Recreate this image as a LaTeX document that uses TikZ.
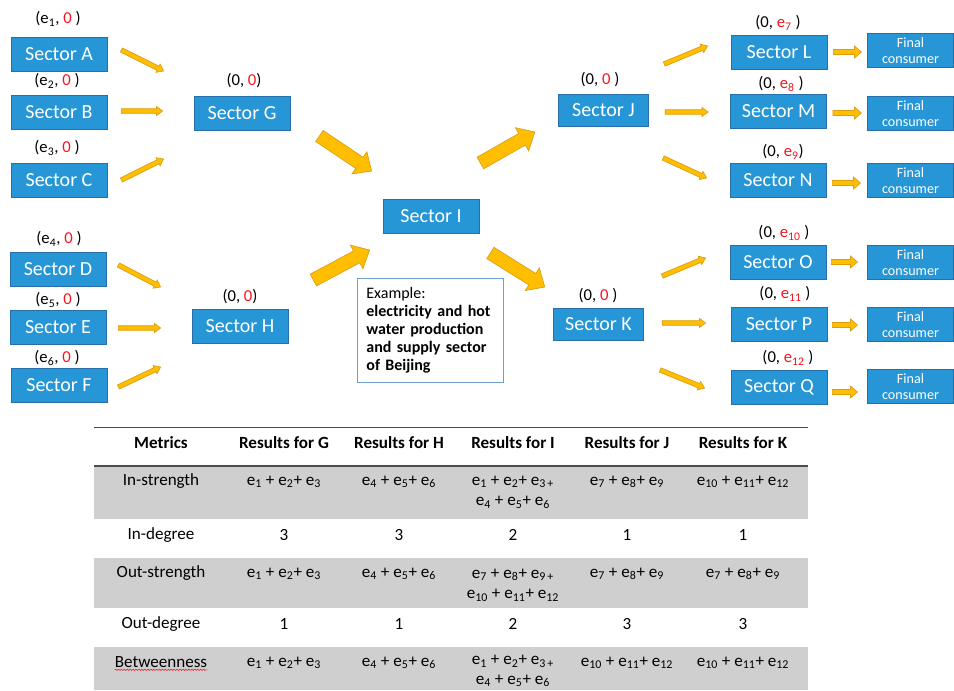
\documentclass[tikz,border=0pt]{standalone}
\usepackage{fontspec}
\setmainfont{Carlito}
\usetikzlibrary{calc,decorations.pathmorphing}

\definecolor{sectorblue}{RGB}{38,150,214}
\definecolor{sectoredge}{RGB}{40,110,168}
\definecolor{arrowgold}{RGB}{255,190,0}
\definecolor{arrowedge}{RGB}{218,158,20}
\definecolor{valred}{RGB}{245,20,30}
\definecolor{rowgray}{RGB}{207,207,207}
\definecolor{boxline}{RGB}{110,160,205}

\tikzset{
  sector/.style={draw=sectoredge, line width=0.6pt, fill=sectorblue, text=white, inner sep=0pt,
    minimum width=72pt, minimum height=25.5pt, font=\fontsize{15}{18}\selectfont},
  hub/.style={sector, minimum width=68pt, minimum height=24pt},
  consumer/.style={sector, minimum width=64pt, minimum height=26pt, align=center,
    font=\fontsize{10.6}{12.5}\selectfont},
  flow/.style={inner sep=0pt, font=\fontsize{12.5}{15}\selectfont},
  arrowfill/.style={fill=arrowgold, draw=arrowedge, line width=0.5pt, line join=miter},
  cell/.style={inner sep=0pt, align=center, font=\fontsize{12.8}{15.5}\selectfont},
  headcell/.style={cell, font=\fontsize{12.8}{15.5}\selectfont\bfseries},
  tablerule/.style={draw=black!70, line width=1.4pt},
}

\newcommand\evar[1]{e\textsubscript{#1}}
\newcommand\redval[1]{{\color{valred}#1}}
% half shaft, half head, head length, from, to
\newcommand\blockarrow[5]{%
  \coordinate (tail) at (#4);
  \coordinate (tip) at (#5);
  \coordinate (neck) at ($(tip)!#3!(tail)$);
  \filldraw[arrowfill] ($(tail)!#1!90:(tip)$) -- ($(neck)!#1!-90:(tail)$) -- ($(neck)!#2!-90:(tail)$)
    -- (tip) -- ($(neck)!#2!90:(tail)$) -- ($(neck)!#1!90:(tail)$) -- ($(tail)!#1!-90:(tip)$) -- cycle;}
\newcommand\thinarrow[2]{\blockarrow{1.7pt}{3.4pt}{4.6pt}{#1}{#2}}
\newcommand\midarrow[2]{\blockarrow{1.9pt}{4.5pt}{5.2pt}{#1}{#2}}
\newcommand\bigarrow[2]{\blockarrow{5pt}{10pt}{11pt}{#1}{#2}}

\begin{document}
\begin{tikzpicture}[x=0.75pt,y=-0.75pt]
  %%%%% START %%%%%
  \useasboundingbox (0,0) rectangle (954,690);

  % source sectors
  \node[sector] (A) at (59,54) {Sector A};
  \node[sector] (B) at (59,112) {Sector B};
  \node[sector] (C) at (59,180) {Sector C};
  \node[sector] (D) at (58,269.5) {Sector D};
  \node[sector] (E) at (58,327.5) {Sector E};
  \node[sector] (F) at (59,385.5) {Sector F};

  \node[flow] (lA) at (58,19) {(\evar{1}, \redval{0} )};
  \node[flow] (lB) at (57,81) {(\evar{2}, \redval{0} )};
  \node[flow] (lC) at (57,148) {(\evar{3}, \redval{0} )};
  \node[flow] (lD) at (59,239) {(\evar{4}, \redval{0} )};
  \node[flow] (lE) at (58,300) {(\evar{5}, \redval{0} )};
  \node[flow] (lF) at (57,358) {(\evar{6}, \redval{0} )};

  % middle sectors
  \node[sector] (G) at (242,113) {Sector G};
  \node[sector] (H) at (240,326) {Sector H};
  \node[sector] (I) at (431,216) {Sector I};
  \node[hub] (J) at (603.5,110) {Sector J};
  \node[hub] (K) at (598.5,324) {Sector K};

  \node[flow] (lG) at (244,81) {(0, \redval{0})};
  \node[flow] (lH) at (240,297) {(0, \redval{0})};
  \node[flow] (lJ) at (600,80) {(0, \redval{0} )};
  \node[flow] (lK) at (598,296) {(0, \redval{0} )};

  % output sectors
  \node[sector] (L) at (779,52.5) {Sector L};
  \node[sector] (M) at (778.5,111) {Sector M};
  \node[sector] (N) at (778,180) {Sector N};
  \node[sector] (O) at (778,262.5) {Sector O};
  \node[sector] (P) at (779,324) {Sector P};
  \node[sector] (Q) at (779,387) {Sector Q};

  \node[flow] (lL) at (778,23) {(0, \redval{\evar{7}} )};
  \node[flow] (lM) at (781,84) {(0, \redval{\evar{8}} )};
  \node[flow] (lN) at (783,152) {(0, \redval{\evar{9}})};
  \node[flow] (lO) at (784,233) {(0, \redval{\evar{10}} )};
  \node[flow] (lP) at (785,294) {(0, \redval{\evar{11}} )};
  \node[flow] (lQ) at (788,358) {(0, \redval{\evar{12}} )};

  \node[consumer] (fL) at (910.5,50.5) {Final\\consumer};
  \node[consumer] (fM) at (910.5,113.5) {Final\\consumer};
  \node[consumer] (fN) at (910.5,180.5) {Final\\consumer};
  \node[consumer] (fO) at (910.5,262.5) {Final\\consumer};
  \node[consumer] (fP) at (910.5,324.5) {Final\\consumer};
  \node[consumer] (fQ) at (910.5,386.5) {Final\\consumer};

  \node[draw=boxline, line width=0.6pt, anchor=north west, text width=96pt, minimum height=78pt,
    inner xsep=6.75pt, align=left, font=\fontsize{12}{13.5}\selectfont] (ex) at (357,278)
    {Example:\\\textbf{electricity and hot water production and supply sector of Beijing}};

  % arrows
  \thinarrow{$(A.east)+(14,-4)$}{$(G.west)+(-30,-42)$}
  \thinarrow{$(B.east)+(14,-1)$}{$(G.west)+(-31,-2)$}
  \thinarrow{$(C.east)+(14,0)$}{$(G.west)+(-30,46)$}
  \thinarrow{$(D.east)+(12,-4.5)$}{$(H.west)+(-31,-39)$}
  \thinarrow{$(E.east)+(12,0.5)$}{$(H.west)+(-31,2)$}
  \thinarrow{$(F.east)+(11,1.5)$}{$(H.west)+(-31,41)$}

  \bigarrow{$(G.east)+(29,23)$}{$(I.west)+(-11,-45)$}
  \bigarrow{$(H.east)+(25,-46)$}{$(I.west)+(-13,34)$}
  \bigarrow{$(I.east)+(1,-53)$}{$(J.west)+(-23,22)$}
  \bigarrow{$(I.east)+(11,37)$}{$(K.west)+(-8,-37)$}

  \thinarrow{$(J.east)+(15,-46)$}{$(L.west)+(-23,-6.5)$}
  \thinarrow{$(J.east)+(16,2)$}{$(M.west)+(-22,1)$}
  \thinarrow{$(J.east)+(14,48)$}{$(N.west)+(-23,-2)$}
  \thinarrow{$(K.east)+(18,-48)$}{$(O.west)+(-24,-4.5)$}
  \thinarrow{$(K.east)+(18,-1)$}{$(P.west)+(-25,-1)$}
  \thinarrow{$(K.east)+(16,46)$}{$(Q.west)+(-26,1)$}

  \midarrow{$(L.east)+(6,-0.5)$}{$(fL.west)+(-6,1.5)$}
  \midarrow{$(M.east)+(6,2)$}{$(fM.west)+(-6,-0.5)$}
  \midarrow{$(N.east)+(6,3)$}{$(fN.west)+(-7,2.5)$}
  \midarrow{$(O.east)+(5,-0.5)$}{$(fO.west)+(-10,-0.5)$}
  \midarrow{$(P.east)+(5,1)$}{$(fP.west)+(-10,0.5)$}
  \midarrow{$(Q.east)+(5,5)$}{$(fQ.west)+(-10,5.5)$}

  % table
  \fill[rowgray] (94,466) rectangle (808,519);
  \fill[rowgray] (94,558) rectangle (808,608);
  \fill[rowgray] (94,647) rectangle (808,690);
  \draw[tablerule] (94,427.5) -- (808,427.5);
  \draw[tablerule] (94,466) -- (808,466);

  \node[headcell] (hM) at (161,443) {Metrics};
  \node[headcell] (hG) at (284,443) {Results for G};
  \node[headcell] (hH) at (399,443) {Results for H};
  \node[headcell] (hI) at (513,443) {Results for I};
  \node[headcell] (hJ) at (627,443) {Results for J};
  \node[headcell] (hK) at (743,443) {Results for K};

  \node[cell] (r1) at (161,481) {In-strength};
  \node[cell] (r1G) at (284,482) {\evar{1} + \evar{2}+ \evar{3}};
  \node[cell] (r1H) at (399,482) {\evar{4} + \evar{5}+ \evar{6}};
  \node[cell] (r1I) at (513,492) {\evar{1} + \evar{2}+ \evar{3\,+}\\\evar{4} + \evar{5}+ \evar{6}};
  \node[cell] (r1J) at (627,482) {\evar{7} + \evar{8}+ \evar{9}};
  \node[cell] (r1K) at (743,482) {\evar{10} + \evar{11}+ \evar{12}};

  \node[cell] (r2) at (161,535) {In-degree};
  \node[cell] (r2G) at (284,535) {3};
  \node[cell] (r2H) at (399,535) {3};
  \node[cell] (r2I) at (513,535) {2};
  \node[cell] (r2J) at (627,535) {1};
  \node[cell] (r2K) at (743,535) {1};

  \node[cell] (r3) at (161,573) {Out-strength};
  \node[cell] (r3G) at (284,574) {\evar{1} + \evar{2}+ \evar{3}};
  \node[cell] (r3H) at (399,574) {\evar{4} + \evar{5}+ \evar{6}};
  \node[cell] (r3I) at (513,585) {\evar{7} + \evar{8}+ \evar{9\,+}\\\evar{10} + \evar{11}+ \evar{12}};
  \node[cell] (r3J) at (627,574) {\evar{7} + \evar{8}+ \evar{9}};
  \node[cell] (r3K) at (743,574) {\evar{7} + \evar{8}+ \evar{9}};

  \node[cell] (r4) at (161,624) {Out-degree};
  \node[cell] (r4G) at (284,624) {1};
  \node[cell] (r4H) at (399,624) {1};
  \node[cell] (r4I) at (513,624) {2};
  \node[cell] (r4J) at (627,624) {3};
  \node[cell] (r4K) at (743,624) {3};

  \node[cell] (r5) at (161,662) {Betweenness};
  \node[cell] (r5G) at (284,663) {\evar{1} + \evar{2}+ \evar{3}};
  \node[cell] (r5H) at (399,663) {\evar{4} + \evar{5}+ \evar{6}};
  \node[cell, font=\fontsize{12.8}{14.5}\selectfont] (r5I) at (513,671) {\evar{1} + \evar{2}+ \evar{3\,+}\\\evar{4} + \evar{5}+ \evar{6}};
  \node[cell] (r5J) at (627,663) {\evar{10} + \evar{11}+ \evar{12}};
  \node[cell] (r5K) at (743,663) {\evar{10} + \evar{11}+ \evar{12}};
  \draw[valred, line width=0.4pt, decorate, decoration={snake, amplitude=0.5pt, segment length=2.2pt}]
    ($(r5.south west)+(0,2)$) -- ($(r5.south east)+(0,2)$);

  %%%%% END %%%%%
\end{tikzpicture}
\end{document}
